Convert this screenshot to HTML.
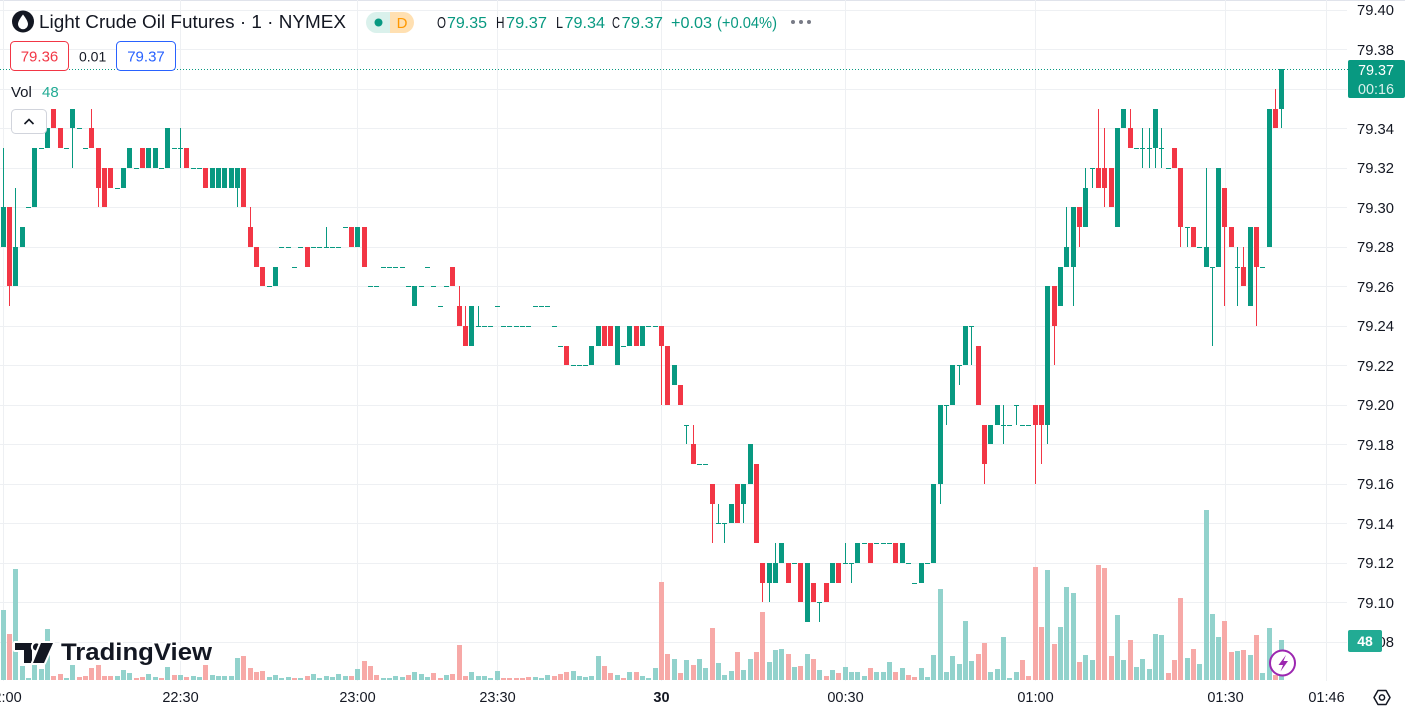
<!DOCTYPE html>
<html><head><meta charset="utf-8"><style>
html,body{margin:0;padding:0;background:#fff;}
svg{display:block;}
text{font-family:"Liberation Sans",Arial,sans-serif;}
</style></head><body>
<svg width="1405" height="713" viewBox="0 0 1405 713" xmlns="http://www.w3.org/2000/svg">
<rect width="1405" height="713" fill="#fff"/>
<line x1="0" y1="0.5" x2="1405" y2="0.5" stroke="#e0e3eb"/>
<g stroke="#eef0f3" stroke-width="1" shape-rendering="crispEdges">
<line x1="0" y1="10.5" x2="1347" y2="10.5"/><line x1="0" y1="49.5" x2="1347" y2="49.5"/><line x1="0" y1="89.5" x2="1347" y2="89.5"/><line x1="0" y1="128.5" x2="1347" y2="128.5"/><line x1="0" y1="168.5" x2="1347" y2="168.5"/><line x1="0" y1="207.5" x2="1347" y2="207.5"/><line x1="0" y1="247.5" x2="1347" y2="247.5"/><line x1="0" y1="286.5" x2="1347" y2="286.5"/><line x1="0" y1="326.5" x2="1347" y2="326.5"/><line x1="0" y1="365.5" x2="1347" y2="365.5"/><line x1="0" y1="405.5" x2="1347" y2="405.5"/><line x1="0" y1="444.5" x2="1347" y2="444.5"/><line x1="0" y1="484.5" x2="1347" y2="484.5"/><line x1="0" y1="523.5" x2="1347" y2="523.5"/><line x1="0" y1="563.5" x2="1347" y2="563.5"/><line x1="0" y1="602.5" x2="1347" y2="602.5"/><line x1="0" y1="642.5" x2="1347" y2="642.5"/>
<line x1="3.5" y1="0" x2="3.5" y2="681"/><line x1="180.5" y1="0" x2="180.5" y2="681"/><line x1="357.5" y1="0" x2="357.5" y2="681"/><line x1="497.5" y1="0" x2="497.5" y2="681"/><line x1="661.5" y1="0" x2="661.5" y2="681"/><line x1="845.5" y1="0" x2="845.5" y2="681"/><line x1="1035.5" y1="0" x2="1035.5" y2="681"/><line x1="1225.5" y1="0" x2="1225.5" y2="681"/><line x1="1326.5" y1="0" x2="1326.5" y2="681"/>
</g>
<g shape-rendering="crispEdges">
<path fill="#92d2cc" d="M1 610h5V680h-5zM13 569h5V680h-5zM20 666h5V680h-5zM26 678h5V680h-5zM32 665h5V680h-5zM39 669h5V680h-5zM45 629h5V680h-5zM64 678h5V680h-5zM70 665h5V680h-5zM115 676h5V680h-5zM121 670h5V680h-5zM127 673h5V680h-5zM146 674h5V680h-5zM153 677h5V680h-5zM165 667h5V680h-5zM178 675h5V680h-5zM191 676h5V680h-5zM197 677h5V680h-5zM210 675h5V680h-5zM216 676h5V680h-5zM222 676h5V680h-5zM229 676h5V680h-5zM235 658h5V680h-5zM267 677h5V680h-5zM273 675h5V680h-5zM279 678h5V680h-5zM286 677h5V680h-5zM298 678h5V680h-5zM311 674h5V680h-5zM317 678h5V680h-5zM324 676h5V680h-5zM330 677h5V680h-5zM336 674h5V680h-5zM343 676h5V680h-5zM355 669h5V680h-5zM381 678h5V680h-5zM387 678h5V680h-5zM393 676h5V680h-5zM400 677h5V680h-5zM412 672h5V680h-5zM419 674h5V680h-5zM425 677h5V680h-5zM444 675h5V680h-5zM469 672h5V680h-5zM476 676h5V680h-5zM482 676h5V680h-5zM488 678h5V680h-5zM495 671h5V680h-5zM533 677h5V680h-5zM539 678h5V680h-5zM545 675h5V680h-5zM571 671h5V680h-5zM577 676h5V680h-5zM583 677h5V680h-5zM589 676h5V680h-5zM596 656h5V680h-5zM615 675h5V680h-5zM627 672h5V680h-5zM640 676h5V680h-5zM646 678h5V680h-5zM653 668h5V680h-5zM672 659h5V680h-5zM684 660h5V680h-5zM697 659h5V680h-5zM703 668h5V680h-5zM716 663h5V680h-5zM722 675h5V680h-5zM729 671h5V680h-5zM741 670h5V680h-5zM748 659h5V680h-5zM767 662h5V680h-5zM773 650h5V680h-5zM779 649h5V680h-5zM792 667h5V680h-5zM805 654h5V680h-5zM817 670h5V680h-5zM830 670h5V680h-5zM843 667h5V680h-5zM849 672h5V680h-5zM855 672h5V680h-5zM862 676h5V680h-5zM874 672h5V680h-5zM881 672h5V680h-5zM887 662h5V680h-5zM900 668h5V680h-5zM919 668h5V680h-5zM925 677h5V680h-5zM931 655h5V680h-5zM938 589h5V680h-5zM944 672h5V680h-5zM950 656h5V680h-5zM957 664h5V680h-5zM963 621h5V680h-5zM969 661h5V680h-5zM988 672h5V680h-5zM995 669h5V680h-5zM1001 637h5V680h-5zM1007 678h5V680h-5zM1014 672h5V680h-5zM1045 570h5V680h-5zM1058 627h5V680h-5zM1064 587h5V680h-5zM1071 593h5V680h-5zM1083 655h5V680h-5zM1090 660h5V680h-5zM1115 615h5V680h-5zM1121 660h5V680h-5zM1134 667h5V680h-5zM1140 659h5V680h-5zM1147 669h5V680h-5zM1153 634h5V680h-5zM1159 635h5V680h-5zM1185 658h5V680h-5zM1197 664h5V680h-5zM1204 510h5V680h-5zM1210 614h5V680h-5zM1216 637h5V680h-5zM1235 651h5V680h-5zM1248 655h5V680h-5zM1260 673h5V680h-5zM1267 628h5V680h-5zM1279 640h5V680h-5z"/>
<path fill="#f7a9a7" d="M7 634h5V680h-5zM51 676h5V680h-5zM58 674h5V680h-5zM77 677h5V680h-5zM83 676h5V680h-5zM89 668h5V680h-5zM96 665h5V680h-5zM102 676h5V680h-5zM108 676h5V680h-5zM134 678h5V680h-5zM140 677h5V680h-5zM159 678h5V680h-5zM172 675h5V680h-5zM184 677h5V680h-5zM203 665h5V680h-5zM241 656h5V680h-5zM248 668h5V680h-5zM254 672h5V680h-5zM260 671h5V680h-5zM292 678h5V680h-5zM305 676h5V680h-5zM349 676h5V680h-5zM362 661h5V680h-5zM368 666h5V680h-5zM374 675h5V680h-5zM406 675h5V680h-5zM431 673h5V680h-5zM438 678h5V680h-5zM450 674h5V680h-5zM457 645h5V680h-5zM463 676h5V680h-5zM501 678h5V680h-5zM507 678h5V680h-5zM514 678h5V680h-5zM520 678h5V680h-5zM526 677h5V680h-5zM552 676h5V680h-5zM558 674h5V680h-5zM564 672h5V680h-5zM602 666h5V680h-5zM608 673h5V680h-5zM621 678h5V680h-5zM634 672h5V680h-5zM659 582h5V680h-5zM665 654h5V680h-5zM678 673h5V680h-5zM691 665h5V680h-5zM710 628h5V680h-5zM735 652h5V680h-5zM754 652h5V680h-5zM760 612h5V680h-5zM786 654h5V680h-5zM798 666h5V680h-5zM811 659h5V680h-5zM824 676h5V680h-5zM836 673h5V680h-5zM868 668h5V680h-5zM893 672h5V680h-5zM906 675h5V680h-5zM912 677h5V680h-5zM976 654h5V680h-5zM982 643h5V680h-5zM1020 660h5V680h-5zM1026 676h5V680h-5zM1033 567h5V680h-5zM1039 627h5V680h-5zM1052 644h5V680h-5zM1077 662h5V680h-5zM1096 565h5V680h-5zM1102 568h5V680h-5zM1109 656h5V680h-5zM1128 640h5V680h-5zM1166 673h5V680h-5zM1172 660h5V680h-5zM1178 598h5V680h-5zM1191 649h5V680h-5zM1222 621h5V680h-5zM1229 652h5V680h-5zM1241 650h5V680h-5zM1254 635h5V680h-5zM1273 675h5V680h-5z"/>
</g>
<!-- TradingView watermark -->
<g>
<g fill="#131722" stroke="#fff" stroke-width="4" paint-order="stroke" stroke-linejoin="round">
<path d="M15 643H32V663H24V650H15Z"/>
<circle cx="36.5" cy="647" r="3.6"/>
<path d="M41 643H53L44 663H33Z"/>
<text x="61" y="660" font-size="24" font-weight="bold" textLength="151" lengthAdjust="spacingAndGlyphs">TradingView</text>
</g>
</g>
<!-- candles -->
<g shape-rendering="crispEdges">
<path fill="#089981" d="M3 148h1v99h-1zM15 188h1v98h-1zM72 109h1v59h-1zM180 128h1v40h-1zM237 168h1v39h-1zM326 227h1v20h-1zM478 306h1v20h-1zM686 425h1v19h-1zM718 504h1v19h-1zM724 523h1v20h-1zM743 484h1v39h-1zM769 563h1v39h-1zM775 543h1v40h-1zM819 602h1v20h-1zM845 543h1v20h-1zM851 563h1v20h-1zM940 405h1v99h-1zM946 405h1v20h-1zM959 365h1v20h-1zM971 326h1v39h-1zM1003 405h1v39h-1zM1016 405h1v20h-1zM1047 286h1v158h-1zM1066 207h1v60h-1zM1073 207h1v99h-1zM1085 168h1v59h-1zM1092 168h1v20h-1zM1142 128h1v40h-1zM1149 128h1v40h-1zM1155 109h1v59h-1zM1161 128h1v40h-1zM1187 227h1v20h-1zM1206 168h1v99h-1zM1212 267h1v79h-1zM1237 247h1v59h-1zM1281 69h1v59h-1z"/>
<path fill="#f23645" d="M9 207h1v99h-1zM91 109h1v39h-1zM98 148h1v59h-1zM250 207h1v40h-1zM459 286h1v40h-1zM465 306h1v40h-1zM661 326h1v79h-1zM693 425h1v39h-1zM712 484h1v59h-1zM762 563h1v39h-1zM984 425h1v59h-1zM1035 405h1v79h-1zM1041 405h1v59h-1zM1054 286h1v79h-1zM1079 207h1v40h-1zM1098 109h1v79h-1zM1104 128h1v79h-1zM1130 109h1v39h-1zM1180 168h1v79h-1zM1224 188h1v118h-1zM1243 247h1v39h-1zM1256 227h1v99h-1zM1275 89h1v39h-1z"/>
<path fill="#089981" d="M1 207h5v40h-5zM13 247h5v39h-5zM20 227h5v20h-5zM32 148h5v59h-5zM45 128h5v20h-5zM70 109h5v19h-5zM121 168h5v20h-5zM127 148h5v20h-5zM146 148h5v20h-5zM153 148h5v20h-5zM165 128h5v40h-5zM210 168h5v20h-5zM216 168h5v20h-5zM222 168h5v20h-5zM229 168h5v20h-5zM235 168h5v20h-5zM273 267h5v19h-5zM355 227h5v20h-5zM412 286h5v20h-5zM469 306h5v40h-5zM589 346h5v19h-5zM596 326h5v20h-5zM615 326h5v39h-5zM627 326h5v20h-5zM640 326h5v20h-5zM672 365h5v20h-5zM729 504h5v19h-5zM741 484h5v20h-5zM748 444h5v40h-5zM767 563h5v20h-5zM773 563h5v20h-5zM779 543h5v20h-5zM805 563h5v59h-5zM830 563h5v20h-5zM855 543h5v20h-5zM900 543h5v20h-5zM919 563h5v20h-5zM931 484h5v79h-5zM938 405h5v79h-5zM950 365h5v40h-5zM963 326h5v39h-5zM988 425h5v19h-5zM995 405h5v20h-5zM1045 286h5v139h-5zM1058 267h5v39h-5zM1064 247h5v20h-5zM1071 207h5v60h-5zM1083 188h5v39h-5zM1115 128h5v99h-5zM1121 109h5v19h-5zM1153 109h5v39h-5zM1204 247h5v20h-5zM1216 168h5v99h-5zM1248 227h5v79h-5zM1267 109h5v138h-5zM1279 69h5v40h-5z"/>
<path fill="#089981" d="M26 207h5v1h-5zM39 148h5v1h-5zM64 148h5v1h-5zM77 128h5v1h-5zM83 148h5v1h-5zM115 188h5v1h-5zM134 168h5v1h-5zM159 168h5v1h-5zM172 148h5v1h-5zM178 148h5v1h-5zM191 168h5v1h-5zM197 168h5v1h-5zM267 286h5v1h-5zM279 247h5v1h-5zM286 247h5v1h-5zM292 267h5v1h-5zM298 247h5v1h-5zM311 247h5v1h-5zM317 247h5v1h-5zM324 247h5v1h-5zM330 247h5v1h-5zM336 247h5v1h-5zM343 227h5v1h-5zM368 286h5v1h-5zM374 286h5v1h-5zM381 267h5v1h-5zM387 267h5v1h-5zM393 267h5v1h-5zM400 267h5v1h-5zM406 286h5v1h-5zM419 286h5v1h-5zM425 267h5v1h-5zM431 286h5v1h-5zM438 306h5v1h-5zM444 286h5v1h-5zM476 326h5v1h-5zM482 326h5v1h-5zM488 326h5v1h-5zM495 306h5v1h-5zM501 326h5v1h-5zM507 326h5v1h-5zM514 326h5v1h-5zM520 326h5v1h-5zM526 326h5v1h-5zM533 306h5v1h-5zM539 306h5v1h-5zM545 306h5v1h-5zM552 326h5v1h-5zM558 346h5v1h-5zM571 365h5v1h-5zM577 365h5v1h-5zM583 365h5v1h-5zM621 346h5v1h-5zM646 326h5v1h-5zM653 326h5v1h-5zM684 425h5v1h-5zM697 464h5v1h-5zM703 464h5v1h-5zM716 523h5v1h-5zM722 523h5v1h-5zM792 563h5v1h-5zM817 602h5v1h-5zM843 563h5v1h-5zM849 563h5v1h-5zM862 543h5v1h-5zM874 543h5v1h-5zM881 543h5v1h-5zM887 543h5v1h-5zM906 563h5v1h-5zM912 583h5v1h-5zM925 563h5v1h-5zM944 405h5v1h-5zM957 365h5v1h-5zM969 326h5v1h-5zM1001 425h5v1h-5zM1007 425h5v1h-5zM1014 405h5v1h-5zM1020 425h5v1h-5zM1026 425h5v1h-5zM1090 168h5v1h-5zM1134 148h5v1h-5zM1140 148h5v1h-5zM1147 148h5v1h-5zM1159 148h5v1h-5zM1166 168h5v1h-5zM1185 227h5v1h-5zM1197 247h5v1h-5zM1210 267h5v1h-5zM1235 267h5v1h-5zM1260 267h5v1h-5z"/>
<path fill="#f23645" d="M7 207h5v79h-5zM51 109h5v19h-5zM58 128h5v20h-5zM89 128h5v20h-5zM96 148h5v40h-5zM102 168h5v39h-5zM108 168h5v20h-5zM140 148h5v20h-5zM184 148h5v20h-5zM203 168h5v20h-5zM241 168h5v39h-5zM248 227h5v20h-5zM254 247h5v20h-5zM260 267h5v19h-5zM305 247h5v20h-5zM349 227h5v20h-5zM362 227h5v40h-5zM450 267h5v19h-5zM457 306h5v20h-5zM463 326h5v20h-5zM564 346h5v19h-5zM602 326h5v20h-5zM608 326h5v20h-5zM634 326h5v20h-5zM659 326h5v20h-5zM665 346h5v59h-5zM678 385h5v20h-5zM691 444h5v20h-5zM710 484h5v20h-5zM735 484h5v39h-5zM754 464h5v79h-5zM760 563h5v20h-5zM786 563h5v20h-5zM798 563h5v39h-5zM811 583h5v19h-5zM824 583h5v19h-5zM836 563h5v20h-5zM868 543h5v20h-5zM893 543h5v20h-5zM976 346h5v59h-5zM982 425h5v39h-5zM1033 405h5v20h-5zM1039 405h5v20h-5zM1052 286h5v40h-5zM1077 207h5v20h-5zM1096 168h5v20h-5zM1102 168h5v20h-5zM1109 168h5v39h-5zM1128 128h5v20h-5zM1172 148h5v20h-5zM1178 168h5v59h-5zM1191 227h5v20h-5zM1222 188h5v39h-5zM1229 227h5v20h-5zM1241 267h5v19h-5zM1254 227h5v40h-5zM1273 109h5v19h-5z"/>
</g>
<!-- last price dotted line -->
<line x1="0" y1="69.5" x2="1348" y2="69.5" stroke="#089981" stroke-width="1" stroke-dasharray="1 2"/>
<!-- lightning icon -->
<circle cx="1282.5" cy="663" r="12.5" fill="#fff" stroke="#9c27b0" stroke-width="2"/>
<path d="M1286 655L1278.5 665H1283L1280.5 671.5L1288 661H1283.5Z" fill="#9c27b0"/>
<!-- price axis -->
<g font-size="14.5" fill="#131722">
<text x="1357" y="15" textLength="37" lengthAdjust="spacingAndGlyphs">79.40</text>
<text x="1357" y="55" textLength="37" lengthAdjust="spacingAndGlyphs">79.38</text>
<text x="1357" y="134" textLength="37" lengthAdjust="spacingAndGlyphs">79.34</text>
<text x="1357" y="173" textLength="37" lengthAdjust="spacingAndGlyphs">79.32</text>
<text x="1357" y="213" textLength="37" lengthAdjust="spacingAndGlyphs">79.30</text>
<text x="1357" y="252" textLength="37" lengthAdjust="spacingAndGlyphs">79.28</text>
<text x="1357" y="292" textLength="37" lengthAdjust="spacingAndGlyphs">79.26</text>
<text x="1357" y="331" textLength="37" lengthAdjust="spacingAndGlyphs">79.24</text>
<text x="1357" y="371" textLength="37" lengthAdjust="spacingAndGlyphs">79.22</text>
<text x="1357" y="410" textLength="37" lengthAdjust="spacingAndGlyphs">79.20</text>
<text x="1357" y="450" textLength="37" lengthAdjust="spacingAndGlyphs">79.18</text>
<text x="1357" y="489" textLength="37" lengthAdjust="spacingAndGlyphs">79.16</text>
<text x="1357" y="529" textLength="37" lengthAdjust="spacingAndGlyphs">79.14</text>
<text x="1357" y="568" textLength="37" lengthAdjust="spacingAndGlyphs">79.12</text>
<text x="1357" y="608" textLength="37" lengthAdjust="spacingAndGlyphs">79.10</text>
<text x="1357" y="647" textLength="37" lengthAdjust="spacingAndGlyphs">79.08</text>
</g>
<rect x="1348" y="60" width="57" height="38" rx="2" fill="#089981"/>
<text x="1358" y="75" font-size="14.5" fill="#fff" textLength="36" lengthAdjust="spacingAndGlyphs">79.37</text>
<text x="1358" y="94" font-size="14.5" fill="#fff" fill-opacity="0.85" textLength="36" lengthAdjust="spacingAndGlyphs">00:16</text>
<rect x="1348" y="630" width="34" height="22" rx="2" fill="#22ab94"/>
<text x="1365" y="646" font-size="14" font-weight="bold" fill="#fff" text-anchor="middle">48</text>
<!-- time axis -->
<g font-size="14.5" fill="#131722" text-anchor="middle">
<text x="3.5" y="702">22:00</text>
<text x="180.5" y="702">22:30</text>
<text x="357.5" y="702">23:00</text>
<text x="497.5" y="702">23:30</text>
<text x="661.5" y="702" font-weight="bold">30</text>
<text x="845.5" y="702">00:30</text>
<text x="1035.5" y="702">01:00</text>
<text x="1225.5" y="702">01:30</text>
<text x="1326.5" y="702">01:46</text>
</g>
<path d="M1374 697.5L1378 690.5H1386L1390 697.5L1386 704.5H1378Z" fill="none" stroke="#131722" stroke-width="1.5" stroke-linejoin="round"/>
<circle cx="1382" cy="697.5" r="2.6" fill="none" stroke="#131722" stroke-width="1.5"/>
<!-- header -->
<circle cx="23" cy="21.5" r="11" fill="#131722"/>
<path d="M23 14.5C23 14.5 18 20.5 18 24.2A5 5 0 0 0 28 24.2C28 20.5 23 14.5 23 14.5Z" fill="#fff"/>
<text x="39" y="28" font-size="18.5" fill="#131722" textLength="307" lengthAdjust="spacingAndGlyphs">Light Crude Oil Futures · 1 · NYMEX</text>
<defs><clipPath id="pill"><rect x="366" y="12" width="48" height="21" rx="10.5"/></clipPath></defs>
<g clip-path="url(#pill)">
<rect x="366" y="12" width="24" height="21" fill="#daf1ec"/>
<rect x="390" y="12" width="24" height="21" fill="#ffe0b2"/>
</g>
<circle cx="378.5" cy="22.5" r="4" fill="#089981"/>
<text x="402" y="28" font-size="15" fill="#ff9800" text-anchor="middle">D</text>
<g font-size="16">
<text x="437" y="28" fill="#131722" textLength="9" lengthAdjust="spacingAndGlyphs">O</text>
<text x="447" y="28" fill="#089981" textLength="40" lengthAdjust="spacingAndGlyphs">79.35</text>
<text x="496" y="28" fill="#131722" textLength="8.5" lengthAdjust="spacingAndGlyphs">H</text>
<text x="506" y="28" fill="#089981" textLength="41" lengthAdjust="spacingAndGlyphs">79.37</text>
<text x="556" y="28" fill="#131722" textLength="7" lengthAdjust="spacingAndGlyphs">L</text>
<text x="564.5" y="28" fill="#089981" textLength="40.5" lengthAdjust="spacingAndGlyphs">79.34</text>
<text x="612" y="28" fill="#131722" textLength="8" lengthAdjust="spacingAndGlyphs">C</text>
<text x="621.5" y="28" fill="#089981" textLength="41.5" lengthAdjust="spacingAndGlyphs">79.37</text>
<text x="671" y="28" fill="#089981" textLength="41" lengthAdjust="spacingAndGlyphs">+0.03</text>
<text x="717" y="28" fill="#089981" textLength="60" lengthAdjust="spacingAndGlyphs">(+0.04%)</text>
</g>
<circle cx="793" cy="22" r="2" fill="#787b86"/><circle cx="801" cy="22" r="2" fill="#787b86"/><circle cx="809" cy="22" r="2" fill="#787b86"/>
<rect x="10.5" y="41.5" width="58" height="29" rx="4" fill="#fff" stroke="#f23645"/>
<text x="39.5" y="61.5" font-size="15" fill="#f23645" text-anchor="middle">79.36</text>
<text x="79" y="61.5" font-size="14" fill="#131722">0.01</text>
<rect x="116.5" y="41.5" width="59" height="29" rx="4" fill="#fff" stroke="#2962ff"/>
<text x="146" y="61.5" font-size="15" fill="#2962ff" text-anchor="middle">79.37</text>
<text x="11" y="97" font-size="15" fill="#131722">Vol</text>
<text x="42" y="97" font-size="15" fill="#22ab94">48</text>
<rect x="11.5" y="109.5" width="35" height="24" rx="4" fill="#fff" stroke="#d1d4dc"/>
<polyline points="24.5,124 29,119.5 33.5,124" fill="none" stroke="#131722" stroke-width="1.6"/>
</svg>
</body></html>
